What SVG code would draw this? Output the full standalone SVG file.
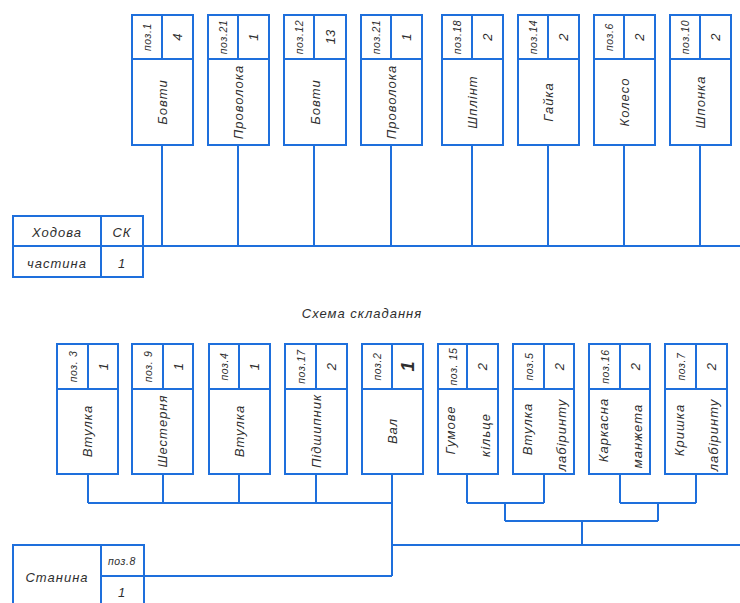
<svg xmlns="http://www.w3.org/2000/svg" width="740" height="603" viewBox="0 0 740 603">
<style>
.box{fill:#fff;stroke:#1e6fdc;stroke-width:2}
.ln{fill:none;stroke:#1e6fdc;stroke-width:2}
text{font-family:"Liberation Sans","DejaVu Sans",sans-serif;font-style:italic;fill:#2e2e2e;text-anchor:middle;dominant-baseline:central}
.t{font-size:13px;letter-spacing:1px}
.p{font-size:10.5px;letter-spacing:0.6px}
.n{font-size:13px}
.big{font-size:18px;font-weight:bold}
</style>
<rect width="740" height="603" fill="#fff"/>
<g id="connectors" class="ln">
<path d="M162 145V246M238 145V246M314 145V246M391 145V246M472 145V246M548 145V246M624 145V246M700 145V246M143 246H740"/>
<path d="M88 474V503M163 474V503M239 474V503M316 474V503M392 474V576M88 503H392M144 576H392"/>
<path d="M467 474V503M544 474V503M467 503H544M620 474V503M696 474V503M620 503H696M505 503V521M658 503V521M505 521H658M582 521V545M392 545H740"/>
</g>
<g id="t1"><rect class="box" x="132" y="15" width="61" height="130"/><path class="ln" d="M132 59H193M162 15V59"/><text class="p" x="147" y="37" transform="rotate(-90 147 37)">поз.1</text><text class="n" x="177.5" y="37" transform="rotate(-90 177.5 37)">4</text><text class="t" x="162.5" y="102" transform="rotate(-90 162.5 102)">Бовти</text></g>
<g id="t2"><rect class="box" x="208" y="15" width="61" height="130"/><path class="ln" d="M208 59H269M238 15V59"/><text class="p" x="223" y="37" transform="rotate(-90 223 37)">поз.21</text><text class="n" x="253.5" y="37" transform="rotate(-90 253.5 37)">1</text><text class="t" x="238.5" y="102" transform="rotate(-90 238.5 102)">Проволока</text></g>
<g id="t3"><rect class="box" x="284" y="15" width="62" height="130"/><path class="ln" d="M284 59H346M314 15V59"/><text class="p" x="299" y="37" transform="rotate(-90 299 37)">поз.12</text><text class="n" x="330" y="37" transform="rotate(-90 330 37)">13</text><text class="t" x="315" y="102" transform="rotate(-90 315 102)">Бовти</text></g>
<g id="t4"><rect class="box" x="361" y="15" width="61" height="130"/><path class="ln" d="M361 59H422M391 15V59"/><text class="p" x="376" y="37" transform="rotate(-90 376 37)">поз.21</text><text class="n" x="406.5" y="37" transform="rotate(-90 406.5 37)">1</text><text class="t" x="391.5" y="102" transform="rotate(-90 391.5 102)">Проволока</text></g>
<g id="t5"><rect class="box" x="442" y="15" width="61" height="130"/><path class="ln" d="M442 59H503M472 15V59"/><text class="p" x="457" y="37" transform="rotate(-90 457 37)">поз.18</text><text class="n" x="487.5" y="37" transform="rotate(-90 487.5 37)">2</text><text class="t" x="472.5" y="102" transform="rotate(-90 472.5 102)">Шплінт</text></g>
<g id="t6"><rect class="box" x="518" y="15" width="61" height="130"/><path class="ln" d="M518 59H579M548 15V59"/><text class="p" x="533" y="37" transform="rotate(-90 533 37)">поз.14</text><text class="n" x="563.5" y="37" transform="rotate(-90 563.5 37)">2</text><text class="t" x="548.5" y="102" transform="rotate(-90 548.5 102)">Гайка</text></g>
<g id="t7"><rect class="box" x="594" y="15" width="61" height="130"/><path class="ln" d="M594 59H655M624 15V59"/><text class="p" x="609" y="37" transform="rotate(-90 609 37)">поз.6</text><text class="n" x="639.5" y="37" transform="rotate(-90 639.5 37)">2</text><text class="t" x="624.5" y="102" transform="rotate(-90 624.5 102)">Колесо</text></g>
<g id="t8"><rect class="box" x="670" y="15" width="61" height="130"/><path class="ln" d="M670 59H731M700 15V59"/><text class="p" x="685" y="37" transform="rotate(-90 685 37)">поз.10</text><text class="n" x="715.5" y="37" transform="rotate(-90 715.5 37)">2</text><text class="t" x="700.5" y="102" transform="rotate(-90 700.5 102)">Шпонка</text></g>
<g id="hodova"><rect class="box" x="13" y="216" width="130" height="61"/><path class="ln" d="M13 246H143M101 216V277"/><text class="t" x="57" y="232">Ходова</text><text class="t" x="122" y="232">СК</text><text class="t" x="57" y="263">частина</text><text class="t" x="122" y="263">1</text></g>
<text id="title" class="t" x="362" y="313">Схема складання</text>
<g id="b1"><rect class="box" x="57" y="344" width="61" height="130"/><path class="ln" d="M57 389H118M88 344V389"/><text class="p" x="72.5" y="366.5" transform="rotate(-90 72.5 366.5)">поз. 3</text><text class="n" x="103" y="366.5" transform="rotate(-90 103 366.5)">1</text><text class="t" x="87.5" y="431" transform="rotate(-90 87.5 431)">Втулка</text></g>
<g id="b2"><rect class="box" x="132" y="344" width="61" height="130"/><path class="ln" d="M132 389H193M163 344V389"/><text class="p" x="147.5" y="366.5" transform="rotate(-90 147.5 366.5)">поз. 9</text><text class="n" x="178" y="366.5" transform="rotate(-90 178 366.5)">1</text><text class="t" x="162.5" y="431" transform="rotate(-90 162.5 431)">Шестерня</text></g>
<g id="b3"><rect class="box" x="209" y="344" width="61" height="130"/><path class="ln" d="M209 389H270M239 344V389"/><text class="p" x="224" y="366.5" transform="rotate(-90 224 366.5)">поз.4</text><text class="n" x="254.5" y="366.5" transform="rotate(-90 254.5 366.5)">1</text><text class="t" x="239.5" y="431" transform="rotate(-90 239.5 431)">Втулка</text></g>
<g id="b4"><rect class="box" x="285" y="344" width="62" height="130"/><path class="ln" d="M285 389H347M316 344V389"/><text class="p" x="300.5" y="366.5" transform="rotate(-90 300.5 366.5)">поз.17</text><text class="n" x="331.5" y="366.5" transform="rotate(-90 331.5 366.5)">2</text><text class="t" x="316" y="431" transform="rotate(-90 316 431)">Підшипник</text></g>
<g id="b5"><rect class="box" x="362" y="344" width="61" height="130"/><path class="ln" d="M362 389H423M392 344V389"/><text class="p" x="377" y="366.5" transform="rotate(-90 377 366.5)">поз.2</text><text class="big" x="407.5" y="366.5" transform="rotate(-90 407.5 366.5)">1</text><text class="t" x="392.5" y="431" transform="rotate(-90 392.5 431)">Вал</text></g>
<g id="b6"><rect class="box" x="438" y="344" width="60" height="130"/><path class="ln" d="M438 389H498M467 344V389"/><text class="p" x="452.5" y="366.5" transform="rotate(-90 452.5 366.5)">поз. 15</text><text class="n" x="482.5" y="366.5" transform="rotate(-90 482.5 366.5)">2</text><text class="t" x="450" y="430" transform="rotate(-90 450 430)">Гумове</text><text class="t" x="485" y="435" transform="rotate(-90 485 435)">кільце</text></g>
<g id="b7"><rect class="box" x="513" y="344" width="61" height="130"/><path class="ln" d="M513 389H574M544 344V389"/><text class="p" x="528.5" y="366.5" transform="rotate(-90 528.5 366.5)">поз.5</text><text class="n" x="559" y="366.5" transform="rotate(-90 559 366.5)">2</text><text class="t" x="527" y="429" transform="rotate(-90 527 429)">Втулка</text><text class="t" x="561" y="435" transform="rotate(-90 561 435)">лабіринту</text></g>
<g id="b8"><rect class="box" x="589" y="344" width="61" height="130"/><path class="ln" d="M589 389H650M620 344V389"/><text class="p" x="604.5" y="366.5" transform="rotate(-90 604.5 366.5)">поз.16</text><text class="n" x="635" y="366.5" transform="rotate(-90 635 366.5)">2</text><text class="t" x="603" y="430" transform="rotate(-90 603 430)">Каркасна</text><text class="t" x="637" y="436" transform="rotate(-90 637 436)">манжета</text></g>
<g id="b9"><rect class="box" x="665" y="344" width="62" height="130"/><path class="ln" d="M665 389H727M696 344V389"/><text class="p" x="680.5" y="366.5" transform="rotate(-90 680.5 366.5)">поз.7</text><text class="n" x="711.5" y="366.5" transform="rotate(-90 711.5 366.5)">2</text><text class="t" x="679" y="430" transform="rotate(-90 679 430)">Кришка</text><text class="t" x="713" y="435" transform="rotate(-90 713 435)">лабіринту</text></g>
<g id="stanyna"><rect class="box" x="13" y="545" width="131" height="70"/><path class="ln" d="M101 576H144M101 545V615"/><text class="t" x="57" y="577">Станина</text><text class="p" x="122" y="561">поз.8</text><text class="t" x="122" y="592">1</text></g>
</svg>
